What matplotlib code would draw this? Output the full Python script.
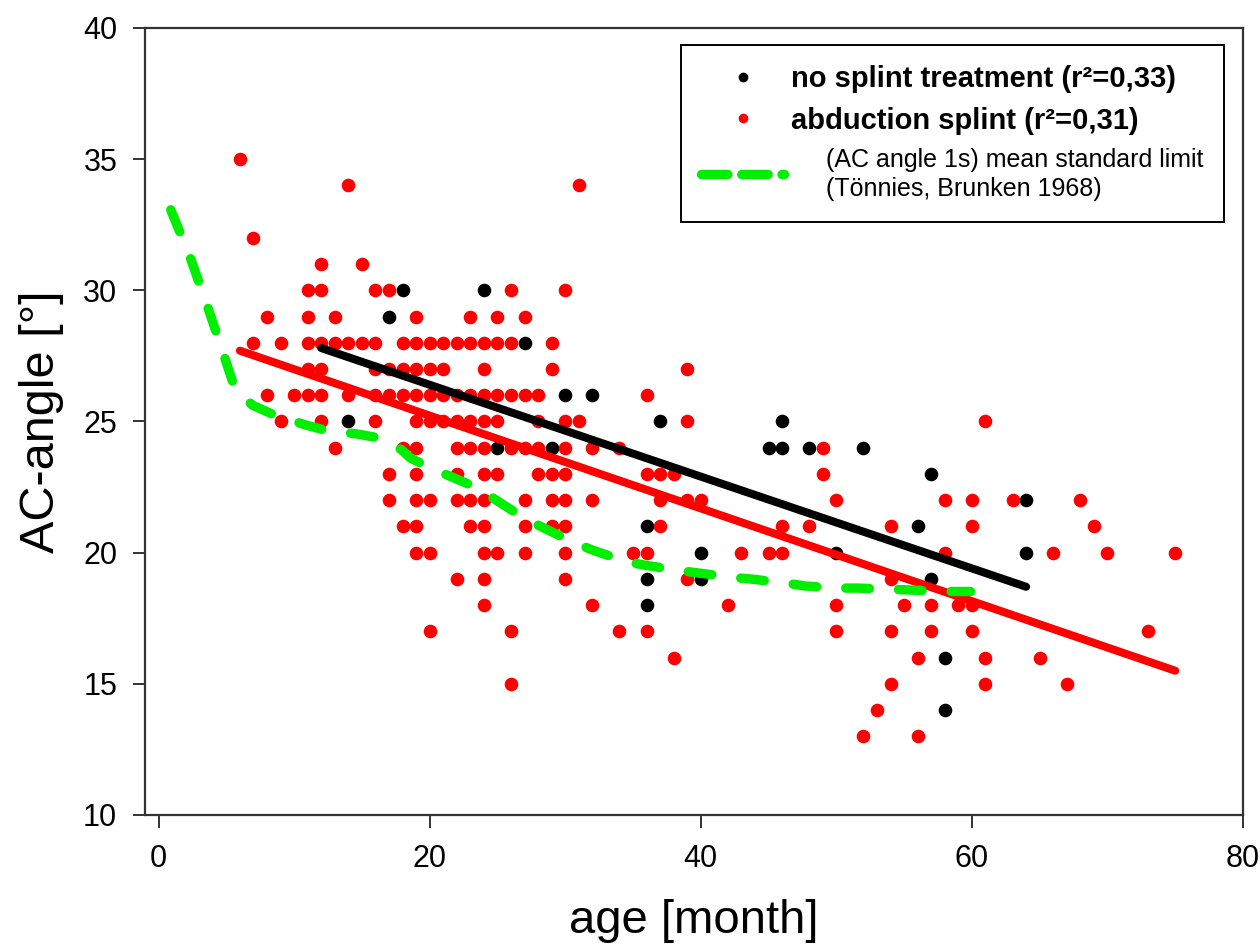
import matplotlib
matplotlib.use("Agg")
import matplotlib.pyplot as plt
from matplotlib.lines import Line2D

plt.rcParams['font.family'] = ['Liberation Sans', 'DejaVu Sans']
plt.rcParams['lines.scale_dashes'] = False

# ---- data: no splint treatment (black) ----
black_x = [18, 24, 17, 27, 14, 37, 46, 30, 32, 25, 29, 45, 46, 48, 52, 57, 64,
           36, 56, 40, 50, 64, 36, 40, 57, 36, 58, 58]
black_y = [30, 30, 29, 28, 25, 25, 25, 26, 26, 24, 24, 24, 24, 24, 24, 23, 22,
           21, 21, 20, 20, 20, 19, 19, 19, 18, 16, 14]

# ---- data: abduction splint (red), listed row by row ----
red_rows = {
    35: [6],
    34: [14, 31],
    32: [7],
    31: [12, 15],
    30: [11, 12, 16, 17, 26, 30],
    29: [8, 11, 13, 19, 23, 25, 27],
    28: [7, 9, 11, 12, 13, 14, 15, 16, 18, 19, 20, 21, 22, 23, 24, 25, 26, 29],
    27: [11, 12, 16, 17, 18, 19, 20, 21, 24, 29, 39],
    26: [8, 10, 11, 12, 14, 16, 17, 18, 19, 20, 21, 22, 23, 24, 25, 26, 27, 28, 36],
    25: [9, 12, 16, 19, 20, 21, 22, 23, 24, 25, 28, 30, 31, 39, 61],
    24: [13, 18, 19, 22, 23, 24, 26, 27, 28, 30, 32, 34, 49],
    23: [17, 19, 22, 24, 25, 28, 29, 30, 36, 37, 38, 49],
    22: [17, 19, 20, 22, 23, 24, 27, 29, 30, 32, 37, 39, 40, 50, 58, 60, 63, 68],
    21: [18, 19, 23, 24, 27, 29, 30, 37, 46, 48, 54, 60, 69],
    20: [19, 20, 24, 25, 27, 30, 35, 36, 43, 45, 46, 58, 66, 70, 75],
    19: [22, 24, 30, 39, 54],
    18: [24, 32, 42, 50, 55, 57, 59, 60],
    17: [20, 26, 34, 36, 50, 54, 57, 60, 73],
    16: [38, 56, 61, 65],
    15: [26, 54, 61, 67],
    14: [53],
    13: [52, 56],
}
red_x = [x for yv, xs in red_rows.items() for x in xs]
red_y = [yv for yv, xs in red_rows.items() for x in xs]

# ---- regression lines (end points) ----
fit_black_x = [12, 64]
fit_black_y = [27.8, 18.7]
fit_red_x = [6, 75]
fit_red_y = [27.7, 15.5]

# ---- mean standard limit (Toennies, Brunken 1968) ----
std_x = [0.9, 2.3, 3.6, 4.9, 5.6, 6.9, 8.4, 10.9, 12.3, 14.7, 16.3, 17.9, 18.6,
         20.1, 22.7, 24.1, 26.6, 28.1, 30.5, 32.0, 34.5, 35.8, 38.4, 39.9, 42.5,
         43.8, 46.3, 47.7, 50.2, 51.6, 54.3, 58.3, 59.9]
std_y = [33.07, 31.3, 29.4, 27.4, 26.3, 25.63, 25.28, 24.86, 24.67, 24.52, 24.37,
         23.93, 23.6, 23.22, 22.65, 22.27, 21.44, 21.02, 20.42, 20.1, 19.66, 19.53,
         19.32, 19.22, 19.05, 18.99, 18.84, 18.73, 18.65, 18.65, 18.6, 18.52, 18.52]

x_ticks = [0, 20, 40, 60, 80]
y_ticks = [10, 15, 20, 25, 30, 35, 40]

fig = plt.figure(figsize=(12.6, 9.51), dpi=100)
ax = fig.add_axes([145 / 1260, 1 - 815 / 951, (1243 - 145) / 1260, (815 - 28) / 951])

ms = 9.8
ax.plot(black_x, black_y, 'o', color='black', markersize=ms, markeredgewidth=0, zorder=3)
ax.plot(red_x, red_y, 'o', color='#ff0000', markersize=ms, markeredgewidth=0, zorder=3)
ax.plot(fit_black_x, fit_black_y, '-', color='black', lw=5.8, solid_capstyle='round', zorder=4)
ax.plot(fit_red_x, fit_red_y, '-', color='#ff0000', lw=5.8, solid_capstyle='round', zorder=4)
ax.plot(std_x, std_y, color='#00ee00', lw=6.8, dashes=(17, 21),
        dash_capstyle='round', solid_joinstyle='round', zorder=5)

ax.set_xlim(-1, 80)
ax.set_ylim(10, 40)
ax.set_xticks(x_ticks)
ax.set_yticks(y_ticks)
ax.tick_params(axis='both', direction='out', length=9, width=1.4, color='#333333',
               labelsize=22)
ax.tick_params(axis='x', pad=12)
ax.tick_params(axis='y', pad=11)
for sp in ax.spines.values():
    sp.set_linewidth(1.6)
    sp.set_color('#333333')

ax.set_xlabel('age [month]', fontsize=34, labelpad=18)
ax.set_ylabel('AC-angle [°]', fontsize=35, labelpad=14)

handles = [
    Line2D([], [], ls='none', marker='o', color='black', markersize=7, markeredgewidth=0),
    Line2D([], [], ls='none', marker='o', color='#ff0000', markersize=7, markeredgewidth=0),
    Line2D([], [], color='#00ee00', lw=6.8, dashes=(19, 10), dash_capstyle='round'),
]
labels = [
    'no splint treatment (r²=0,33)',
    'abduction splint (r²=0,31)',
    '     (AC angle 1s) mean standard limit\n     (Tönnies, Brunken 1968)',
]
leg = ax.legend(handles, labels, loc='upper right',
                bbox_to_anchor=((1224 - 145) / (1243 - 145), (815 - 45) / (815 - 28)),
                borderaxespad=0, fontsize=21, handlelength=2.85, handletextpad=0.24,
                borderpad=0.7, labelspacing=0.45, frameon=True, fancybox=False,
                edgecolor='black', framealpha=1)
leg.get_frame().set_linewidth(1.4)
texts = leg.get_texts()
texts[0].set_fontweight('bold')
texts[1].set_fontweight('bold')
texts[2].set_fontsize(18)
texts[2].set_linespacing(1.3)

fig.savefig('out.png', dpi=100)
